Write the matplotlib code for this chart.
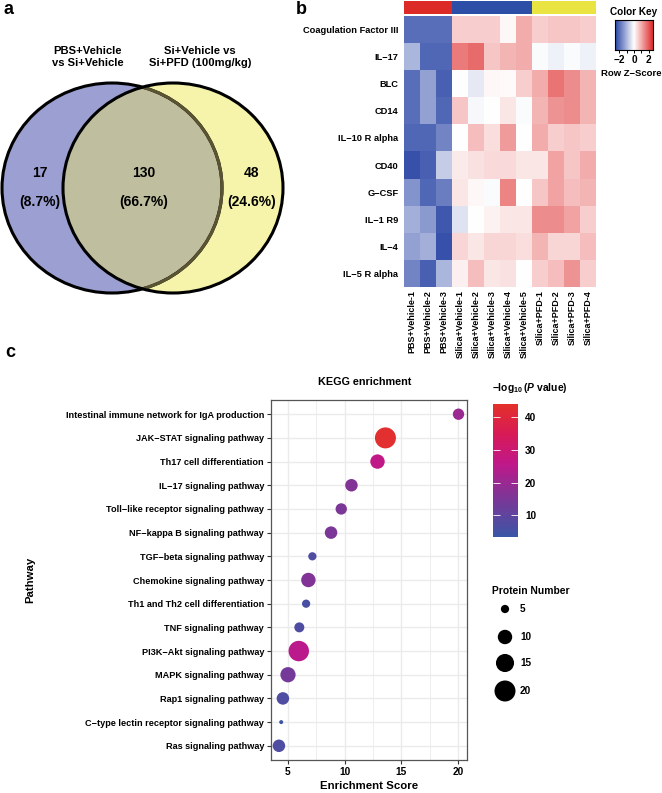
import numpy as np
import matplotlib
matplotlib.use('Agg')
import matplotlib.pyplot as plt
from matplotlib.patches import Ellipse
from matplotlib.colors import LinearSegmentedColormap, ListedColormap, Normalize
from matplotlib.cm import ScalarMappable

plt.rcParams['font.family'] = ['Liberation Sans', 'DejaVu Sans']
plt.rcParams['font.weight'] = 'bold'
plt.rcParams['axes.labelweight'] = 'bold'
plt.rcParams['mathtext.fontset'] = 'custom'
plt.rcParams['mathtext.rm'] = 'Liberation Sans:bold'
plt.rcParams['mathtext.bf'] = 'Liberation Sans:bold'
plt.rcParams['mathtext.it'] = 'Liberation Sans:bold:italic'

# ---- data: panel a (Venn)
venn_names = ['PBS+Vehicle\nvs Si+Vehicle', 'Si+Vehicle vs\nSi+PFD (100mg/kg)']
venn_counts = [17, 130, 48]   # left only, shared, right only

# ---- data: panel b (heatmap, row z-scores)
hm_rows = ['Coagulation Factor III', 'IL−17', 'BLC', 'CD14', 'IL−10 R alpha',
           'CD40', 'G−CSF', 'IL−1 R9', 'IL−4', 'IL−5 R alpha']
hm_cols = ['PBS+Vehicle-1', 'PBS+Vehicle-2', 'PBS+Vehicle-3',
           'Silica+Vehicle-1', 'Silica+Vehicle-2', 'Silica+Vehicle-3',
           'Silica+Vehicle-4', 'Silica+Vehicle-5',
           'Silica+PFD-1', 'Silica+PFD-2', 'Silica+PFD-3', 'Silica+PFD-4']
hm_group = [0, 0, 0, 1, 1, 1, 1, 1, 2, 2, 2, 2]
hm_z = [
    [-2.0, -2.0, -2.0, 0.6, 0.6, 0.6, 0.1, 1.0, 0.6, 0.7, 0.7, 0.6],
    [-1.0, -2.1, -2.1, 1.6, 1.8, 0.7, 0.9, 1.0, -0.05, -0.2, -0.05, -0.2],
    [-2.0, -1.3, -2.2, 0.0, -0.3, 0.1, 0.05, 0.6, 1.0, 1.7, 1.4, 0.9],
    [-2.0, -1.3, -2.1, 0.7, -0.1, 0.0, 0.3, -0.05, 0.9, 1.3, 1.4, 0.9],
    [-2.1, -2.1, -1.7, 0.0, 0.8, 0.4, 1.2, 0.0, 1.0, 0.6, 0.7, 0.6],
    [-2.4, -2.2, -0.7, 0.25, 0.35, 0.45, 0.45, 0.3, 0.3, 1.1, 0.7, 1.0],
    [-1.5, -2.1, -1.8, 0.3, 0.1, -0.05, 1.5, -0.02, 0.7, 1.1, 0.8, 0.9],
    [-1.1, -1.4, -2.3, -0.4, 0.0, 0.15, 0.3, 0.3, 1.4, 1.4, 1.1, 0.6],
    [-1.3, -1.1, -2.4, 0.5, 0.3, 0.5, 0.5, 0.4, 0.9, 0.5, 0.5, 0.8],
    [-1.7, -2.2, -1.0, 0.2, 0.8, 0.3, 0.35, 0.0, 0.6, 0.8, 1.3, 0.6],
]
group_colors = ['#dc2b27', '#2d4ea6', '#eae443']

# ---- data: panel c (KEGG bubbles)
pathways = ['Intestinal immune network for IgA production', 'JAK−STAT signaling pathway',
            'Th17 cell differentiation', 'IL−17 signaling pathway',
            'Toll−like receptor signaling pathway', 'NF−kappa B signaling pathway',
            'TGF−beta signaling pathway', 'Chemokine signaling pathway',
            'Th1 and Th2 cell differentiation', 'TNF signaling pathway',
            'PI3K−Akt signaling pathway', 'MAPK signaling pathway',
            'Rap1 signaling pathway', 'C−type lectin receptor signaling pathway',
            'Ras signaling pathway']
enrich = [20.05, 13.6, 12.9, 10.6, 9.7, 8.8, 7.15, 6.8, 6.6, 6.0, 5.95, 5.0, 4.55, 4.4, 4.2]
proteins = [7, 20, 10, 8, 7, 8, 5, 10, 5, 6, 19, 11, 8, 4, 8]
neglogp = [20, 43, 26, 16, 15, 15, 7, 16, 6, 7, 25, 14, 7, 4, 7]
size_breaks = [5, 10, 15, 20]
color_breaks = [10, 20, 30, 40]

W, H = 662, 793
fig = plt.figure(figsize=(W / 100, H / 100), dpi=100)


def px_axes(x, y, w, h):
    return fig.add_axes([x / W, 1 - (y + h) / H, w / W, h / H])


# ================= panel a =================
ax = px_axes(0, 0, 300, 330)
ax.set_xlim(0, 300)
ax.set_ylim(330, 0)
ax.axis('off')
c1, c2 = (112, 188), (173, 188)
ew, eh = 220, 210
e1 = Ellipse(c1, ew, eh, fc='#9c9fd1', ec='none', zorder=1)
e2 = Ellipse(c2, ew, eh, fc='#f6f4aa', ec='none', zorder=2)
ax.add_patch(e1)
ax.add_patch(e2)
e3 = Ellipse(c1, ew, eh, fc='#bfbf9f', ec='none', zorder=3)
ax.add_patch(e3)
e3.set_clip_path(e2)
ax.add_patch(Ellipse(c1, ew, eh, fill=False, ec='black', lw=2.2, zorder=4))
e4 = Ellipse(c1, ew, eh, fill=False, ec='#5a5432', lw=2.2, zorder=5)
ax.add_patch(e4)
e4.set_clip_path(e2)
ax.add_patch(Ellipse(c2, ew, eh, fill=False, ec='black', lw=2.2, zorder=6))
ax.text(88, 57, venn_names[0], ha='center', va='center', fontsize=8.1, linespacing=1.3)
ax.text(200, 57, venn_names[1], ha='center', va='center', fontsize=8.1, linespacing=1.3)
tot = sum(venn_counts)
for xx, n in zip([40, 144, 252], venn_counts):
    ax.text(xx, 173, str(n), ha='center', va='center', fontsize=10)
    ax.text(xx, 202, '(%.1f%%)' % (100 * n / tot), ha='center', va='center', fontsize=10)
ax.text(4, 10, 'a', fontsize=13, va='center', ha='left')

# ================= panel b =================
hm_cmap = LinearSegmentedColormap.from_list('bwr2', ['#2844a5', '#ffffff', '#df2a2a'])
vlim = 2.6
axh = px_axes(404, 16, 192, 271)
axh.imshow(np.array(hm_z), cmap=hm_cmap, vmin=-vlim, vmax=vlim, aspect='auto',
           interpolation='nearest')
axh.set_yticks(range(len(hm_rows)))
axh.set_yticklabels(hm_rows, fontsize=6.7)
axh.set_xticks(range(len(hm_cols)))
axh.set_xticklabels(hm_cols, rotation=90, fontsize=6.5)
axh.tick_params(length=0, pad=4)
axh.tick_params(axis='x', pad=2.5)
for s in axh.spines.values():
    s.set_visible(False)

axg = px_axes(404, 1, 192, 13)
axg.imshow([hm_group], cmap=ListedColormap(group_colors), aspect='auto',
           interpolation='nearest', vmin=-0.5, vmax=2.5)
axg.axis('off')

axk = px_axes(615, 20, 38, 30)
axk.imshow([np.linspace(-vlim, vlim, 200)], cmap=hm_cmap, aspect='auto',
           extent=[-vlim, vlim, 0, 1])
axk.set_yticks([])
axk.set_xticks([-2, -1, 0, 1, 2])
axk.set_xticklabels(['−2', '', '0', '', '2'], fontsize=7.2)
axk.tick_params(axis='x', length=2.5, width=0.7, pad=1)
for s in axk.spines.values():
    s.set_linewidth(0.8)
fig.text(634 / W, 1 - 12 / H, 'Color Key', ha='center', va='center', fontsize=7.2)
fig.text(631 / W, 1 - 73 / H, 'Row Z−Score', ha='center', va='center', fontsize=6.8)
fig.text(296 / W, 1 - 9 / H, 'b', ha='left', va='center', fontsize=13)

# ================= panel c =================
bub_cmap = LinearSegmentedColormap.from_list(
    'kegg', [(0.0, '#3a56a6'), (0.35, '#8a3094'), (0.55, '#c0188a'),
             (0.78, '#d81a55'), (1.0, '#e3312a')])
cnorm = Normalize(3.4, 44.1)
pmin, pmax = 4, 20


def diam_pt(v):
    r = np.sqrt((np.asarray(v, float) - pmin) / (pmax - pmin))
    return (4 + 17 * r) * 0.72


axc = px_axes(271, 400, 196, 360)
ypos = np.arange(len(pathways))[::-1] + 1
axc.scatter(enrich, ypos, s=diam_pt(proteins) ** 2, c=neglogp, cmap=bub_cmap,
            norm=cnorm, edgecolors='none', zorder=3)
axc.set_xlim(3.5, 20.8)
axc.set_ylim(0.4, len(pathways) + 0.6)
axc.set_xticks([5, 10, 15, 20])
axc.set_xticks([7.5, 12.5, 17.5], minor=True)
axc.set_yticks(ypos)
axc.set_yticklabels(pathways)
axc.tick_params(axis='both', length=3, width=0.8, color='#333333', labelsize=7.3, pad=2)
axc.tick_params(axis='x', which='minor', length=0)
axc.tick_params(axis='y', labelsize=6.6)
axc.grid(True, which='major', color='#ebebeb', lw=1.0, zorder=0)
axc.grid(True, which='minor', axis='x', color='#ebebeb', lw=0.6, zorder=0)
axc.set_axisbelow(True)
for s in axc.spines.values():
    s.set_color('#555555')
    s.set_linewidth(0.9)
axc.set_xlabel('Enrichment Score', fontsize=8.2, fontweight='bold', labelpad=3)
fig.text(30 / W, 1 - 580 / H, 'Pathway', rotation=90, ha='center', va='center', fontsize=8.2)
fig.text(365 / W, 1 - 382 / H, 'KEGG enrichment', ha='center', va='center', fontsize=7.8)
fig.text(5 / W, 1 - 352 / H, 'c', ha='left', va='center', fontsize=13)

# colour bar
axcb = px_axes(493, 404, 25, 133)
cb = fig.colorbar(ScalarMappable(norm=cnorm, cmap=bub_cmap), cax=axcb, ticks=color_breaks)
cb.outline.set_visible(False)
axcb.tick_params(axis='y', which='both', direction='in', color='white', length=5,
                 width=0.6, labelsize=7.2, pad=5, left=True, right=True)
fig.text(492 / W, 1 - 388 / H, r'$\mathrm{-log_{10}\,(}\mathit{P}\mathrm{\ value)}$',
         ha='left', va='center', fontsize=7.4)

# size legend
fig.text(492 / W, 1 - 591 / H, 'Protein Number', ha='left', va='center', fontsize=7.4)
axl = px_axes(485, 598, 80, 110)
axl.set_xlim(485, 565)
axl.set_ylim(708, 598)
axl.axis('off')
leg_y = [609, 637, 663, 691]
axl.scatter([505] * len(size_breaks), leg_y, s=diam_pt(size_breaks) ** 2, c='black',
            edgecolors='none')
for yy, v in zip(leg_y, size_breaks):
    axl.text(520, yy, str(v), ha='left', va='center', fontsize=7.2)

fig.savefig('out.png', dpi=100)
